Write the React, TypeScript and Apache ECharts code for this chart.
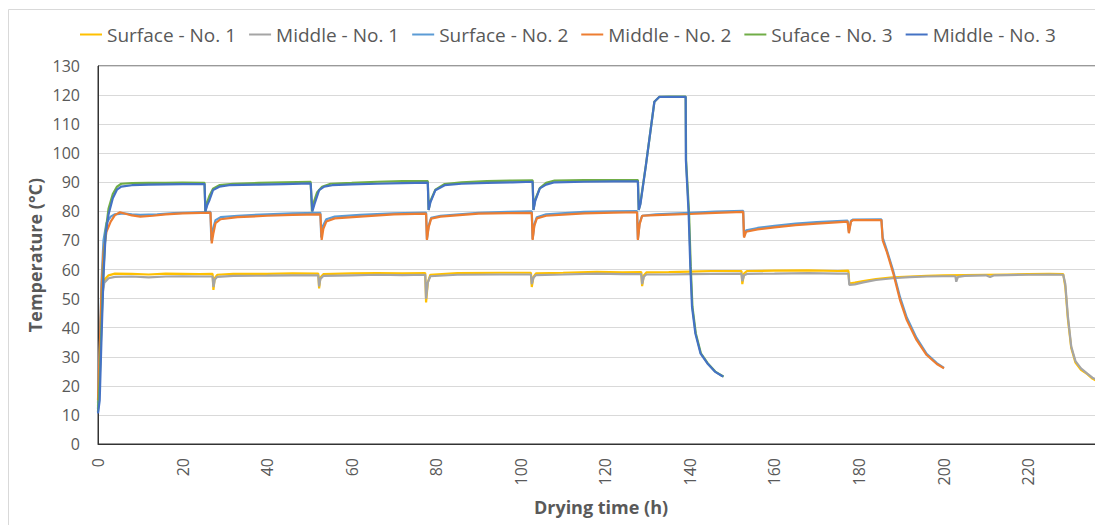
import React, { useEffect, useRef } from 'react';
import * as echarts from 'echarts';

type Pt = [number, number];

const SERIES_NAMES = ['Surface - No. 1', 'Middle - No. 1', 'Surface - No. 2', 'Middle - No. 2', 'Suface - No. 3', 'Middle - No. 3'];
const SERIES_COLORS = ['#FFC000', '#A5A5A5', '#5B9BD5', '#ED7D31', '#70AD47', '#4472C4'];

const X_MIN = 0;
const X_MAX = 237;
const X_INTERVAL = 20;
const Y_MIN = 0;
const Y_MAX = 130;
const Y_INTERVAL = 10;
const X_TITLE = 'Drying time (h)';
const Y_TITLE = 'Temperature (°C)';

const surface1: Pt[] = [
  [0, 13], [0.3, 22], [0.6, 40], [1, 52], [1.5, 56.5], [2.5, 58], [4, 58.6], [8, 58.5], [12, 58.3], [16, 58.6], [20, 58.5], [24, 58.4],
  [27.1, 58.5], [27.3, 53], [27.6, 57], [28.2, 58.2], [32, 58.5], [40, 58.5], [46, 58.7], [52.1, 58.6], [52.3, 53.5], [52.6, 57.3], [53.3, 58.4],
  [60, 58.7], [66, 58.8], [72, 58.7], [77.4, 58.8], [77.6, 48.7], [78, 55.5], [78.6, 58.2], [85, 58.8], [95, 58.9], [102.4, 58.9], [102.6, 54],
  [103, 57.5], [103.6, 58.7], [110, 58.9], [118, 59.2], [124, 59], [128.5, 59.1], [128.7, 54.3], [129.1, 58], [129.7, 59], [135, 59.1], [140, 59.3],
  [145, 59.5], [152.2, 59.5], [152.4, 55], [152.8, 58.6], [153.5, 59.5], [160, 59.6], [168, 59.7], [175, 59.5], [177.5, 59.6], [177.7, 55.2],
  [179, 55.5], [181, 56], [184, 56.7], [188, 57.3], [192, 57.6], [196, 57.8], [200, 58], [205, 58.1], [210, 58.2], [215, 58.3], [220, 58.4],
  [225, 58.5], [228.3, 58.4], [228.8, 54], [229.4, 43], [230.2, 33], [231.2, 28], [232.5, 25.5], [234, 24], [235.2, 22.5], [236.4, 21.5],
];

const middle1: Pt[] = [
  [0, 14], [0.3, 25], [0.6, 42], [1, 51], [1.5, 55.5], [2.5, 57], [4, 57.5], [8, 57.6], [12, 57.3], [16, 57.6], [20, 57.7], [24, 57.6],
  [27.1, 57.6], [27.3, 54], [27.6, 56.5], [28.2, 57.5], [32, 57.8], [40, 57.9], [46, 58], [52.1, 58], [52.3, 54.2], [52.6, 56.8], [53.3, 57.8],
  [60, 58], [66, 58.2], [72, 58.1], [77.4, 58.2], [77.6, 50], [78, 55.5], [78.6, 57.7], [85, 58.2], [95, 58.3], [102.4, 58.3], [102.6, 55],
  [103, 57.2], [103.6, 58.1], [110, 58.3], [118, 58.6], [124, 58.4], [128.5, 58.4], [128.7, 55], [129.1, 57.5], [129.7, 58.3], [135, 58.3],
  [140, 58.4], [145, 58.5], [152.2, 58.6], [152.4, 56], [152.8, 58], [153.5, 58.5], [160, 58.6], [168, 58.8], [175, 58.6], [177.5, 58.6],
  [177.7, 54.7], [179, 54.9], [181, 55.6], [184, 56.4], [188, 57], [192, 57.4], [196, 57.6], [200, 57.7], [202.8, 57.7], [203, 55.8],
  [203.4, 57.5], [205, 57.8], [210, 58], [211, 57.4], [212, 58], [215, 58.1], [220, 58.2], [225, 58.3], [228.3, 58.2], [228.8, 55],
  [229.4, 44], [230.2, 33.5], [231.2, 28.5], [232.5, 26], [234, 24.2], [235.2, 22.8], [236.4, 22],
];

const surface2: Pt[] = [
  [0, 12], [0.4, 30], [0.8, 55], [1.3, 70], [2, 76], [3, 78.2], [4, 79], [6, 79.3], [8, 79], [10, 78.8], [14, 79], [18, 79.4], [22, 79.6],
  [26.6, 79.8], [26.8, 70], [27.2, 74], [27.8, 77], [29, 78], [33, 78.5], [40, 79], [46, 79.3], [52.6, 79.5], [52.8, 71], [53.2, 75], [54, 77.3],
  [56, 78.2], [62, 78.8], [70, 79.3], [77.6, 79.6], [77.8, 70.5], [78.2, 75], [78.8, 77.8], [81, 78.5], [90, 79.5], [97, 79.8], [102.6, 80],
  [102.8, 70.5], [103.2, 75.5], [103.8, 78], [106, 79], [115, 79.8], [122, 80], [127.5, 80.1], [127.7, 70.5], [128.1, 76], [128.7, 78.5],
  [132, 79], [140, 79.5], [146, 79.9], [152.6, 80.2], [152.8, 71.5], [153.3, 73.5], [156, 74.3], [160, 75], [165, 75.8], [170, 76.3],
  [177.3, 76.8], [177.6, 73], [178.1, 76.8], [178.6, 77.2], [185.3, 77.3], [185.6, 71], [186.5, 67], [188, 60], [189.7, 50.5], [191.3, 43.5],
  [193.6, 36.5], [196, 31], [198.4, 27.8], [200.1, 26.2],
];

const middle2: Pt[] = [
  [0, 15], [0.4, 32], [0.8, 52], [1.3, 66], [2, 73], [3, 76.5], [4, 78.7], [5.2, 79.7], [6.5, 79.2], [8, 78.6], [10, 78.2], [13, 78.5], [16, 79],
  [20, 79.3], [26.6, 79.6], [26.9, 69], [27.3, 72.5], [27.8, 76], [29, 77.3], [33, 78], [40, 78.5], [46, 78.8], [52.6, 79], [52.9, 70.2],
  [53.3, 74], [54, 76.5], [56, 77.6], [62, 78.2], [70, 79], [77.6, 79.2], [77.8, 70.2], [78.2, 74.5], [78.8, 77.5], [81, 78.2], [90, 79.2],
  [97, 79.4], [102.6, 79.5], [102.8, 70.2], [103.2, 75], [103.8, 77.6], [106, 78.5], [115, 79.3], [122, 79.6], [127.5, 79.7], [127.7, 70.2],
  [128.1, 75.5], [128.7, 78.5], [132, 78.7], [140, 79.1], [146, 79.5], [152.6, 79.8], [152.8, 71], [153.3, 73], [156, 73.8], [160, 74.5],
  [165, 75.3], [170, 75.8], [177.3, 76.5], [177.6, 72.5], [178.1, 76.5], [178.6, 77], [185.3, 77], [185.6, 70], [186.6, 66], [188.1, 58.7],
  [189.7, 49.5], [191.3, 42.6], [193.6, 35.8], [196, 30.6], [198.4, 27.5], [200.1, 26],
];

const surface3: Pt[] = [
  [0, 11], [0.4, 22], [0.8, 40], [1.3, 60], [1.8, 73], [2.5, 81], [3.5, 86], [4.5, 88.5], [5.5, 89.5], [8, 89.7], [12, 89.8], [16, 89.8],
  [20, 89.9], [25.2, 89.8], [25.4, 80], [25.8, 83], [26.4, 85.5], [27.2, 87.8], [28.7, 89], [32, 89.5], [38, 89.8], [44, 90], [50.3, 90.2],
  [50.6, 80], [51, 83], [51.8, 86.5], [53, 88.5], [55, 89.5], [60, 89.8], [66, 90.2], [72, 90.4], [78, 90.4], [78.2, 80.5], [78.6, 83.5],
  [79.8, 87.5], [82, 89.4], [86, 90], [92, 90.4], [98, 90.6], [102.8, 90.7], [103, 80.5], [103.4, 84], [104.5, 88], [106, 89.8], [108, 90.6],
  [115, 90.8], [122, 90.8], [127.7, 90.8], [127.9, 80.5], [128.3, 83], [129.6, 96], [131.6, 117.7], [132.8, 119.4], [135, 119.5], [139, 119.5],
  [139.1, 97.6], [139.8, 79.3], [140.2, 61], [140.6, 47.2], [141.4, 38], [142.6, 31.2], [144.2, 27.8], [146, 24.9], [147.7, 23.4], [148, 23.2],
];

const middle3: Pt[] = [
  [0, 10.5], [0.4, 15], [0.8, 35], [1.3, 58], [1.8, 72], [2.5, 79], [3.5, 84.5], [4.5, 87.5], [5.5, 88.5], [8, 89], [12, 89.2], [16, 89.3],
  [20, 89.4], [25.2, 89.4], [25.4, 80], [25.8, 82], [26.4, 84], [27.2, 87.3], [28.7, 88.5], [31, 89], [38, 89.2], [44, 89.4], [50.3, 89.6],
  [50.7, 80], [51.2, 82.5], [52.3, 87.3], [53.5, 88.5], [55.4, 89], [60, 89.3], [66, 89.5], [72, 89.7], [78, 89.9], [78.2, 80.5], [78.6, 83],
  [79.8, 87.3], [82, 89], [86, 89.5], [92, 89.8], [98, 90], [102.8, 90.2], [103, 80.5], [103.4, 83.5], [104.5, 87.9], [106, 89.2], [108, 90],
  [115, 90.2], [122, 90.3], [127.7, 90.3], [127.9, 80.5], [128.3, 82.5], [129.6, 95.9], [131.6, 117.7], [132.8, 119.4], [135, 119.4],
  [139, 119.4], [139.05, 97.6], [139.7, 79.3], [140.1, 61], [140.5, 47.2], [141.3, 38], [142.5, 31.2], [144.1, 27.8], [145.9, 24.9],
  [147.6, 23.4], [147.9, 23.2],
];

const SERIES_DATA: Pt[][] = [surface1, middle1, surface2, middle2, surface3, middle3];

const FONT = "'Open Sans', 'Liberation Sans', sans-serif";
const TEXT_COLOR = '#595959';

export default function App() {
  const ref = useRef<HTMLDivElement>(null);

  useEffect(() => {
    if (!ref.current) return;
    const chart = echarts.init(ref.current, null, { renderer: 'svg' });
    chart.setOption({
      animation: false,
      backgroundColor: '#ffffff',
      textStyle: { fontFamily: FONT },
      legend: {
        top: 12,
        left: 67,
        icon: 'rect',
        itemWidth: 22,
        itemHeight: 2,
        itemGap: 13,
        textStyle: { fontSize: 19, color: TEXT_COLOR, fontFamily: FONT },
        data: SERIES_NAMES,
      },
      grid: {
        left: 90,
        top: 58,
        right: 3,
        bottom: 81,
        show: true,
        borderColor: '#333333',
        borderWidth: 1,
        backgroundColor: 'transparent',
      },
      xAxis: {
        type: 'value',
        min: X_MIN,
        max: X_MAX,
        interval: X_INTERVAL,
        axisLine: { show: true, lineStyle: { color: '#333333', width: 1 } },
        axisTick: { show: false },
        splitLine: { show: false },
        axisLabel: {
          rotate: 90,
          margin: 14,
          fontSize: 16,
          color: TEXT_COLOR,
          fontFamily: FONT,
          showMaxLabel: false,
          formatter: (v: number) => (v % X_INTERVAL === 0 ? String(v) : ''),
        },
      },
      yAxis: {
        type: 'value',
        min: Y_MIN,
        max: Y_MAX,
        interval: Y_INTERVAL,
        axisLine: { show: true, lineStyle: { color: '#333333', width: 1 } },
        axisTick: { show: false },
        splitLine: { show: true, lineStyle: { color: '#d9d9d9', width: 1 } },
        axisLabel: { fontSize: 16, color: TEXT_COLOR, margin: 18, fontFamily: FONT },
      },
      graphic: [
        {
          type: 'rect',
          silent: true,
          shape: { x: 0.5, y: 1.5, width: 3000, height: 3000 },
          style: { fill: 'none', stroke: '#d9d9d9', lineWidth: 1 },
          z: -10,
        },
        {
          type: 'text',
          x: 27,
          y: 247,
          rotation: Math.PI / 2,
          style: {
            text: Y_TITLE,
            fill: TEXT_COLOR,
            fontSize: 18,
            fontWeight: 'bold',
            fontFamily: FONT,
            align: 'center',
            verticalAlign: 'middle',
          },
        },
        {
          type: 'text',
          x: 593,
          y: 499,
          style: {
            text: X_TITLE,
            fill: TEXT_COLOR,
            fontSize: 18,
            fontWeight: 'bold',
            fontFamily: FONT,
            align: 'center',
            verticalAlign: 'middle',
          },
        },
      ],
      series: SERIES_NAMES.map((name, i) => ({
        name,
        type: 'line',
        data: SERIES_DATA[i],
        symbol: 'none',
        showSymbol: false,
        smooth: false,
        color: SERIES_COLORS[i],
        lineStyle: { color: SERIES_COLORS[i], width: 2.2 },
        z: 2 + i,
      })),
    });
    return () => chart.dispose();
  }, []);

  return <div ref={ref} style={{ width: 1095, height: 517 }} />;
}
